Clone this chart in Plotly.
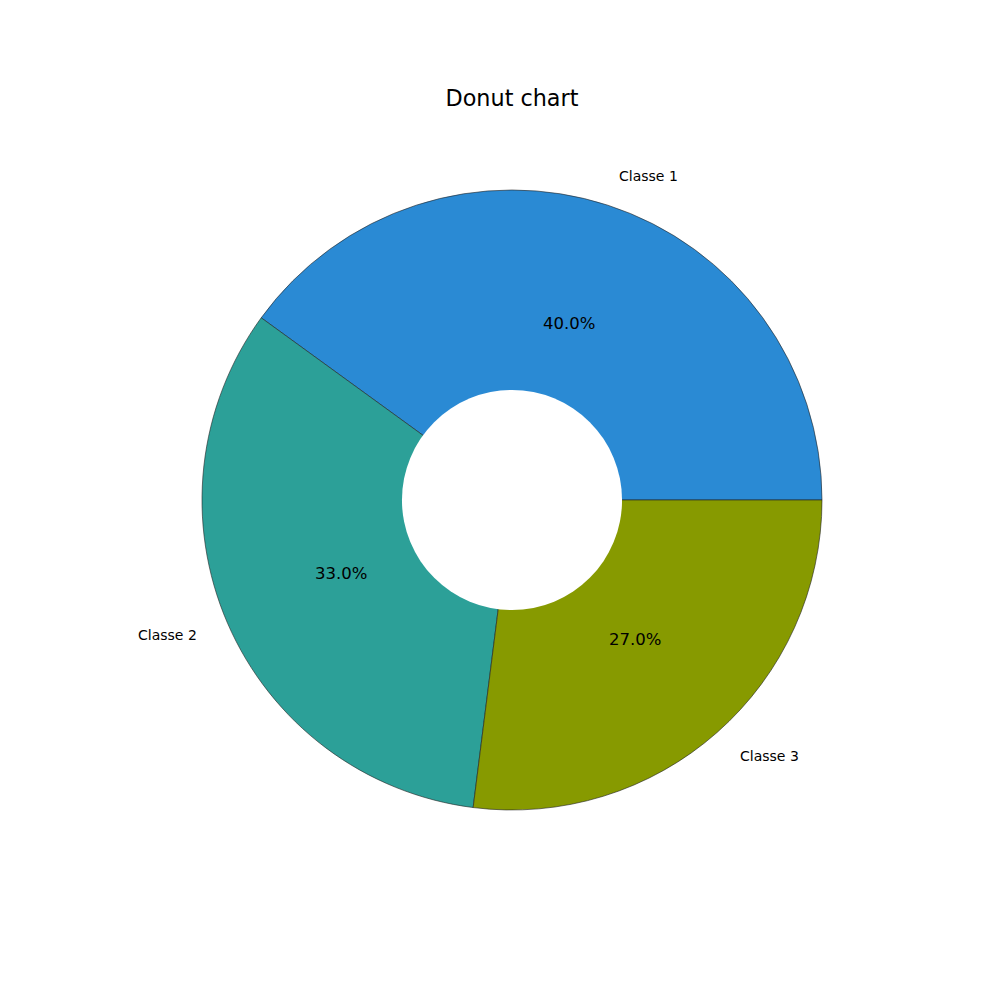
import math
import plotly.graph_objects as go

labels = ["Classe 1", "Classe 2", "Classe 3"]
values = [40, 33, 27]
colors = ["#2a8ad4", "#2ca098", "#879a00"]

# layout geometry (paper fractions, 1000x1000 with zero margins)
cx, cy, R = 0.512, 0.5, 0.31
hole_frac = 0.355

total = sum(values)
# first slice must start at 3 o'clock and run counterclockwise
first_frac = values[0] / total
rotation = 90 - 360 * first_frac

fig = go.Figure()
fig.add_trace(go.Pie(
    labels=labels,
    values=values,
    sort=False,
    direction="counterclockwise",
    rotation=rotation,
    marker=dict(colors=colors, line=dict(color="#222222", width=0.6)),
    textinfo="none",
    hoverinfo="label+percent",
    showlegend=False,
    domain=dict(x=[cx - R, cx + R], y=[cy - R, cy + R]),
))

# white centre circle (hole without edge line)
fig.add_shape(type="circle", xref="paper", yref="paper",
              x0=cx - R * hole_frac, x1=cx + R * hole_frac,
              y0=cy - R * hole_frac, y1=cy + R * hole_frac,
              fillcolor="white", line=dict(width=0), layer="above")

start = 0.0
annotations = []
for lab, v in zip(labels, values):
    frac = v / total
    mid = (start + frac / 2) * 2 * math.pi
    start += frac
    c, s = math.cos(mid), math.sin(mid)
    # percentage text at 0.6 radius
    annotations.append(dict(
        x=cx + 0.6 * R * c, y=cy + 0.6 * R * s, xref="paper", yref="paper",
        text=f"{100 * frac:.1f}%", showarrow=False,
        xanchor="center", yanchor="middle",
        font=dict(family="DejaVu Sans", size=16.5, color="black"),
    ))
    # category label at 1.1 radius
    annotations.append(dict(
        x=cx + 1.1 * R * c, y=cy + 1.1 * R * s, xref="paper", yref="paper",
        text=lab, showarrow=False,
        xanchor="left" if c > 0 else "right", yanchor="middle",
        font=dict(family="DejaVu Sans", size=14, color="black"),
    ))

fig.update_layout(
    width=1000, height=1000,
    margin=dict(l=0, r=0, t=0, b=0),
    paper_bgcolor="white", plot_bgcolor="white",
    title=dict(text="Donut chart", x=0.512, xanchor="center",
               y=0.902, yanchor="middle",
               font=dict(family="DejaVu Sans", size=22.3, color="black")),
    annotations=annotations,
)

fig.write_html("out.html")
